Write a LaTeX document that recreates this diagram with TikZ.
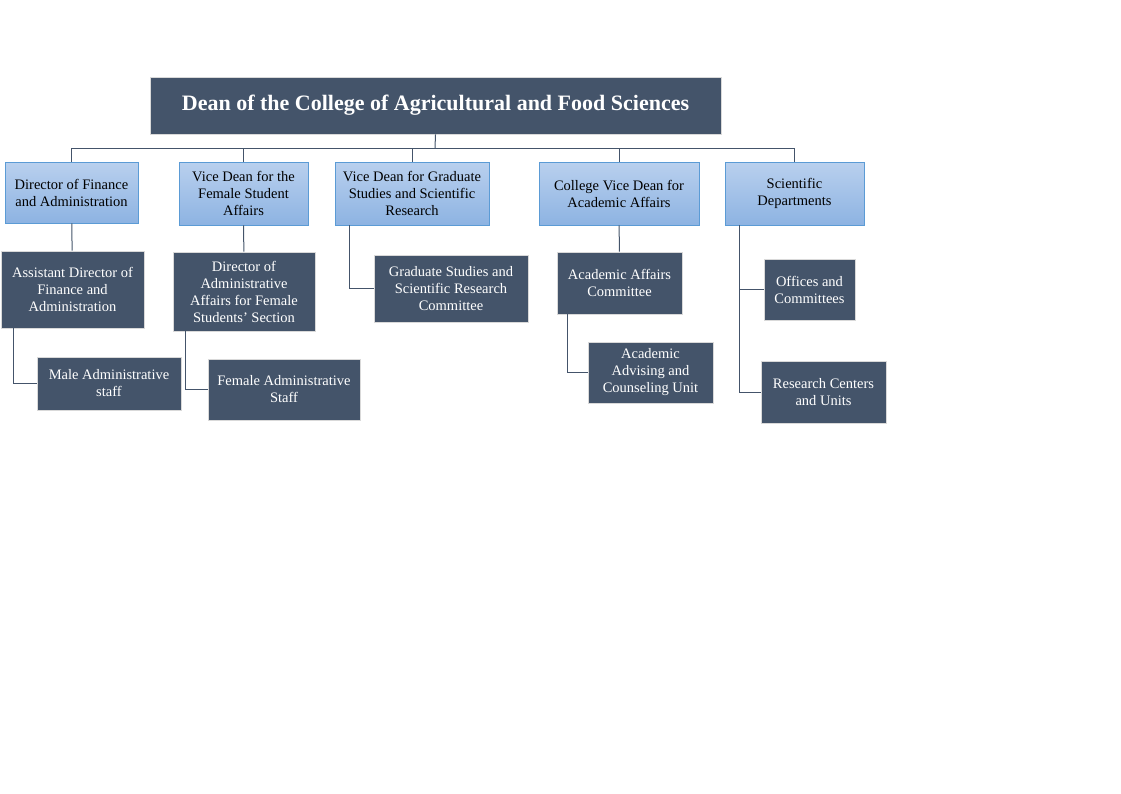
\documentclass[tikz,border=0pt]{standalone}
\usepackage{fontspec}
\setmainfont{Liberation Serif}
\definecolor{dk}{HTML}{44546A}
\definecolor{ltop}{HTML}{B9D0EE}
\definecolor{lbot}{HTML}{8DB3E2}
\definecolor{lbd}{HTML}{5B9BD5}
\begin{document}
\begin{tikzpicture}[x=1pt,y=-1pt,
  dkbox/.style={fill=dk,draw=white!85!black,line width=0.8pt,text=white,align=center,font=\fontsize{14.5}{17}\selectfont,inner sep=1pt},
  ltbox/.style={top color=ltop,bottom color=lbot,draw=lbd,line width=0.8pt,text=black,align=center,font=\fontsize{14.5}{17}\selectfont,inner sep=1pt},
  con/.style={draw=dk,line width=1pt}]
\useasboundingbox (0,0) rectangle (1121,793);
\newcommand\bx[6]{\node[#1,minimum width=#4-#2,minimum height=#5-#3] (#6) at ({(#2+#4)/2},{(#3+#5)/2})}
\bx{dkbox}{150}{77}{721}{134}{dean}{\fontsize{22}{26}\selectfont\bfseries Dean of the College of Agricultural and Food Sciences};
\bx{ltbox}{5}{162}{138}{223}{a}{Director of Finance\\and Administration};
\bx{ltbox}{179}{162}{308}{225}{b}{Vice Dean for the\\Female Student\\Affairs};
\bx{ltbox}{335}{162}{489}{225}{c}{Vice Dean for Graduate\\Studies and Scientific\\Research};
\bx{ltbox}{539}{162}{699}{225}{d}{College Vice Dean for\\Academic Affairs};
\bx{ltbox}{725}{162}{864}{225}{e}{Scientific\\Departments};
\bx{dkbox}{1}{251}{144}{328}{a2}{Assistant Director of\\Finance and\\Administration};
\bx{dkbox}{173}{252}{315}{331}{b2}{Director of\\Administrative\\Affairs for Female\\Students' Section};
\bx{dkbox}{374}{255}{528}{322}{c2}{Graduate Studies and\\Scientific Research\\Committee};
\bx{dkbox}{557}{252}{682}{314}{d2}{Academic Affairs\\Committee};
\bx{dkbox}{764}{259}{855}{320}{e1}{Offices and\\Committees};
\bx{dkbox}{761}{361}{886}{423}{e2}{Research Centers\\and Units};
\bx{dkbox}{37}{357}{181}{410}{a3}{Male Administrative\\staff};
\bx{dkbox}{208}{359}{360}{420}{b3}{Female Administrative\\Staff};
\bx{dkbox}{588}{342}{713}{403}{d3}{Academic\\Advising and\\Counseling Unit};
\coordinate (bus) at (435,148);
\draw[con] (dean.south) -- (bus);
\foreach \n in {a,b,c,d,e}{\draw[con] (\n.north) -- (\n.north |- bus);}
\draw[con] (a.north |- bus) -- (e.north |- bus);
\draw[con] (a) -- (a2);
\draw[con] (b) -- (b2);
\draw[con] (d) -- (d2);
\draw[con] (c.south west) ++(15,0) |- (c2.west);
\draw[con] (a2.south west) ++(13,0) |- (a3.west);
\draw[con] (b2.south west) ++(13,0) |- (b3.west);
\draw[con] (d2.south west) ++(11,0) |- (d3.west);
\draw[con] (e.south west) ++(15,0) |- (e1.west);
\draw[con] (e.south west) ++(15,0) |- (e2.west);
\end{tikzpicture}
\end{document}
